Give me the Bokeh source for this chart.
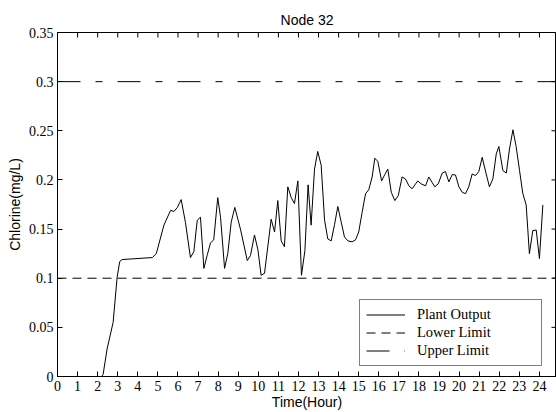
import math
from bokeh.plotting import figure
from bokeh.models import LinearAxis, FixedTicker, Legend, LegendItem
from bokeh.embed import file_html
from bokeh.resources import INLINE

# ---- data ----
time_h = [0, 2.2, 2.27, 2.47, 2.77, 2.97, 3.1, 3.22, 4.72, 4.92, 5.3, 5.63, 5.8, 5.97,
          6.16, 6.37, 6.62, 6.79, 6.96, 7.12, 7.29, 7.45, 7.62, 7.78, 7.98, 8.12, 8.32,
          8.48, 8.65, 8.83, 9.11, 9.45, 9.61, 9.81, 9.98, 10.14, 10.31, 10.64, 10.81,
          10.97, 11.14, 11.3, 11.47, 11.64, 11.8, 11.97, 12.15, 12.32, 12.48, 12.63, 12.8,
          12.96, 13.13, 13.3, 13.46, 13.63, 13.8, 13.96, 14.13, 14.29, 14.46, 14.67, 14.84,
          15.0, 15.17, 15.34, 15.5, 15.67, 15.8, 15.95, 16.14, 16.3, 16.45, 16.62, 16.8,
          16.97, 17.16, 17.33, 17.5, 17.66, 17.94, 18.11, 18.33, 18.49, 18.79, 18.96, 19.16,
          19.32, 19.49, 19.66, 19.82, 19.99, 20.15, 20.32, 20.48, 20.65, 20.82, 20.98, 21.15,
          21.35, 21.51, 21.68, 21.85, 21.98, 22.18, 22.35, 22.51, 22.68, 22.84, 23.01, 23.17,
          23.34, 23.5, 23.67, 23.84, 24.0, 24.17]
chlorine = [0, 0, 0.002, 0.028, 0.055, 0.101, 0.117, 0.119, 0.121, 0.125, 0.154, 0.169, 0.168, 0.172,
            0.180, 0.157, 0.121, 0.127, 0.159, 0.162, 0.110, 0.123, 0.136, 0.139, 0.182, 0.162, 0.110,
            0.125, 0.157, 0.172, 0.150, 0.118, 0.123, 0.144, 0.129, 0.103, 0.105, 0.160, 0.147,
            0.179, 0.138, 0.132, 0.193, 0.182, 0.176, 0.199, 0.103, 0.128, 0.195, 0.154, 0.211,
            0.229, 0.215, 0.159, 0.140, 0.138, 0.155, 0.173, 0.157, 0.142, 0.138, 0.137, 0.139,
            0.147, 0.167, 0.186, 0.190, 0.203, 0.222, 0.219, 0.199, 0.2055, 0.211, 0.1875, 0.179,
            0.184, 0.203, 0.201, 0.194, 0.191, 0.199, 0.196, 0.194, 0.203, 0.193, 0.196, 0.207,
            0.2085, 0.198, 0.2055, 0.205, 0.193, 0.1875, 0.186, 0.193, 0.206, 0.2045, 0.2085, 0.223,
            0.206, 0.193, 0.201, 0.2265, 0.234, 0.2095, 0.207, 0.2315, 0.251, 0.234, 0.2095, 0.1865,
            0.1745, 0.125, 0.1485, 0.149, 0.120, 0.1745]
lower_limit = 0.1
upper_limit = 0.3

x_min, x_max = 0, 24.85
y_min, y_max = 0, 0.35

x_ticks = list(range(0, 25))
y_ticks = [0, 0.05, 0.1, 0.15, 0.2, 0.25, 0.3, 0.35]
y_tick_labels = ["0", "0.05", "0.1", "0.15", "0.2", "0.25", "0.3", "0.35"]

title_text = "Node 32"
x_label = "Time(Hour)"
y_label = "Chlorine(mg/L)"
series_names = ["Plant Output", "Lower Limit", "Upper Limit"]

SANS = "Liberation Sans"
SERIF = "Liberation Serif"

p = figure(width=556, height=412, x_range=(x_min, x_max), y_range=(y_min, y_max),
           output_backend="svg", toolbar_location=None,
           min_border_left=57, min_border_right=0, min_border_top=32, min_border_bottom=36,
           x_axis_location=None, y_axis_location=None)
p.background_fill_color = "white"
p.border_fill_color = "white"
p.outline_line_color = "black"
p.outline_line_width = 1
p.xgrid.visible = False
p.ygrid.visible = False

p.title.text = title_text
p.title.text_font = SANS
p.title.text_font_size = "14px"
p.title.text_font_style = "normal"
p.title.align = "center"
p.title.text_color = "black"
p.title.standoff = 9


def style_axis(ax):
    ax.axis_line_color = "black"
    ax.major_tick_line_color = "black"
    ax.major_tick_in = 5
    ax.major_tick_out = 0
    ax.minor_tick_line_color = None
    ax.major_label_text_font = SERIF
    ax.major_label_text_color = "black"
    ax.major_label_text_font_size = "14px"
    ax.axis_label_text_font = SANS
    ax.axis_label_text_font_size = "14px"
    ax.axis_label_text_font_style = "normal"
    ax.axis_label_text_color = "black"


xb = LinearAxis(ticker=FixedTicker(ticks=x_ticks), axis_label=x_label)
style_axis(xb)
xb.major_label_standoff = 4
xb.axis_label_standoff = 0
p.add_layout(xb, "below")

yl = LinearAxis(ticker=FixedTicker(ticks=y_ticks), axis_label=y_label)
style_axis(yl)
yl.major_label_overrides = {t: s for t, s in zip(y_ticks, y_tick_labels)}
yl.major_label_standoff = 4
yl.axis_label_standoff = 3
p.add_layout(yl, "left")

# inward ticks on the top and right sides of the box
p.ray(x=x_ticks, y=[y_max] * len(x_ticks), length=5, length_units="screen",
      angle=-math.pi / 2, line_color="black", line_width=1)
p.ray(x=[x_max] * len(y_ticks), y=y_ticks, length=5, length_units="screen",
      angle=math.pi, line_color="black", line_width=1)

r_plant = p.line(time_h, chlorine, line_color="black", line_width=1)
r_low = p.line([x_min, x_max], [lower_limit, lower_limit], line_color="black", line_width=1,
               line_dash="9 6")
r_up = p.line([x_min, x_max], [upper_limit, upper_limit], line_color="black", line_width=1,
              line_dash="23 15 7 15")

legend = Legend(items=[LegendItem(label=series_names[0], renderers=[r_plant]),
                       LegendItem(label=series_names[1], renderers=[r_low]),
                       LegendItem(label=series_names[2], renderers=[r_up])],
                location=(302, 10))
legend.label_text_font = SERIF
legend.label_text_font_size = "14.5px"
legend.label_text_color = "black"
legend.glyph_width = 39
legend.glyph_height = 15
legend.label_height = 15
legend.label_width = 118
legend.label_standoff = 12
legend.spacing = 1
legend.padding = 6
legend.margin = 0
legend.border_line_color = "black"
legend.border_line_width = 1
legend.background_fill_color = "white"
legend.background_fill_alpha = 1
p.add_layout(legend, "center")

open("out.html", "w").write(file_html(p, INLINE))
